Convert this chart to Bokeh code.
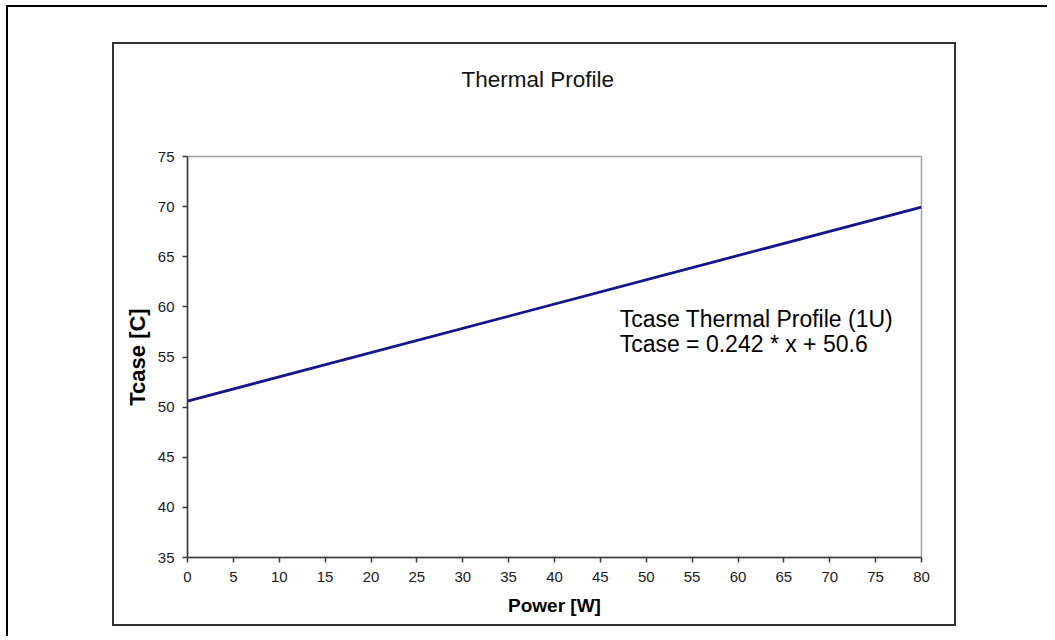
from bokeh.plotting import figure
from bokeh.models import Label, FixedTicker, Range1d
from bokeh.embed import file_html
from bokeh.resources import INLINE

# ---- data ----
power_w = [0, 80]
tcase_c = [50.6, 69.96]
x_ticks = [0, 5, 10, 15, 20, 25, 30, 35, 40, 45, 50, 55, 60, 65, 70, 75, 80]
y_ticks = [35, 40, 45, 50, 55, 60, 65, 70, 75]
title_text = "Thermal Profile"
x_label = "Power [W]"
y_label = "Tcase [C]"
note_line1 = "Tcase Thermal Profile (1U)"
note_line2 = "Tcase = 0.242 * x + 50.6"

FONT = "Liberation Sans"
W, H = 1052, 636

# decorative page frame and chart-area box, drawn as CSS background lines
# (x, y, w, h, colour)
frame_lines = [
    (6, 5, 1041, 2, "#000000"),     # outer top
    (6, 5, 2, 700, "#000000"),      # outer left
    (112, 42, 844, 2, "#333333"),   # chart top
    (112, 624, 844, 2, "#333333"),  # chart bottom
    (112, 42, 2, 584, "#333333"),   # chart left
    (954, 42, 2, 584, "#333333"),   # chart right
]
bg_styles = {
    "background-image": ", ".join(f"linear-gradient({c}, {c})" for *_, c in frame_lines),
    "background-size": ", ".join(f"{w}px {h}px" for _, _, w, h, _ in frame_lines),
    "background-position": ", ".join(f"{x}px {y}px" for x, y, _, _, _ in frame_lines),
    "background-repeat": "no-repeat",
    "background-color": "white",
}

p = figure(width=W, height=H, output_backend="svg", toolbar_location=None,
           x_range=Range1d(0, 80), y_range=Range1d(35, 75),
           min_border_left=187, min_border_right=W - 187 - 734,
           min_border_top=154, min_border_bottom=H - 154 - 403,
           title=title_text, styles=bg_styles)
p.title.text_font = FONT
p.title.text_font_size = "22.5px"
p.title.text_font_style = "normal"
p.title.text_color = "#111111"
p.title.align = "left"
p.title.offset = 274
p.title.standoff = 129
p.background_fill_color = "white"
p.border_fill_alpha = 0
p.outline_line_color = "#a0a0a0"
p.outline_line_width = 1.5
p.xgrid.visible = False
p.ygrid.visible = False

for ax, ticks in ((p.xaxis[0], x_ticks), (p.yaxis[0], y_ticks)):
    ax.ticker = FixedTicker(ticks=ticks)
    ax.major_tick_in = 0
    ax.major_tick_out = 5
    ax.minor_tick_in = 0
    ax.minor_tick_out = 0
    ax.axis_line_color = "#3a3a3a"
    ax.axis_line_width = 1.5
    ax.major_tick_line_color = "#3a3a3a"
    ax.major_tick_line_width = 1.5
    ax.major_label_text_font = FONT
    ax.major_label_text_font_size = "15px"
    ax.major_label_text_color = "#1a1a1a"
    ax.axis_label_text_font = FONT
    ax.axis_label_text_font_style = "bold"
    ax.axis_label_text_color = "black"

p.xaxis.axis_label = x_label
p.xaxis.axis_label_text_font_size = "19px"
p.xaxis.major_label_standoff = 9
p.xaxis.axis_label_standoff = 10
p.yaxis.axis_label = y_label
p.yaxis.axis_label_text_font_size = "22px"
p.yaxis.major_label_standoff = 8
p.yaxis.axis_label_standoff = 5

p.line(power_w, tcase_c, line_color="#16168c", line_width=2.8)

p.add_layout(Label(x=47.1, y=60.1, text=note_line1, text_font=FONT,
                   text_font_size="23px", text_align="left", text_baseline="top",
                   text_color="black"))
p.add_layout(Label(x=47.1, y=57.6, text=note_line2, text_font=FONT,
                   text_font_size="23px", text_align="left", text_baseline="top",
                   text_color="black"))

open("out.html", "w").write(file_html(p, INLINE))
